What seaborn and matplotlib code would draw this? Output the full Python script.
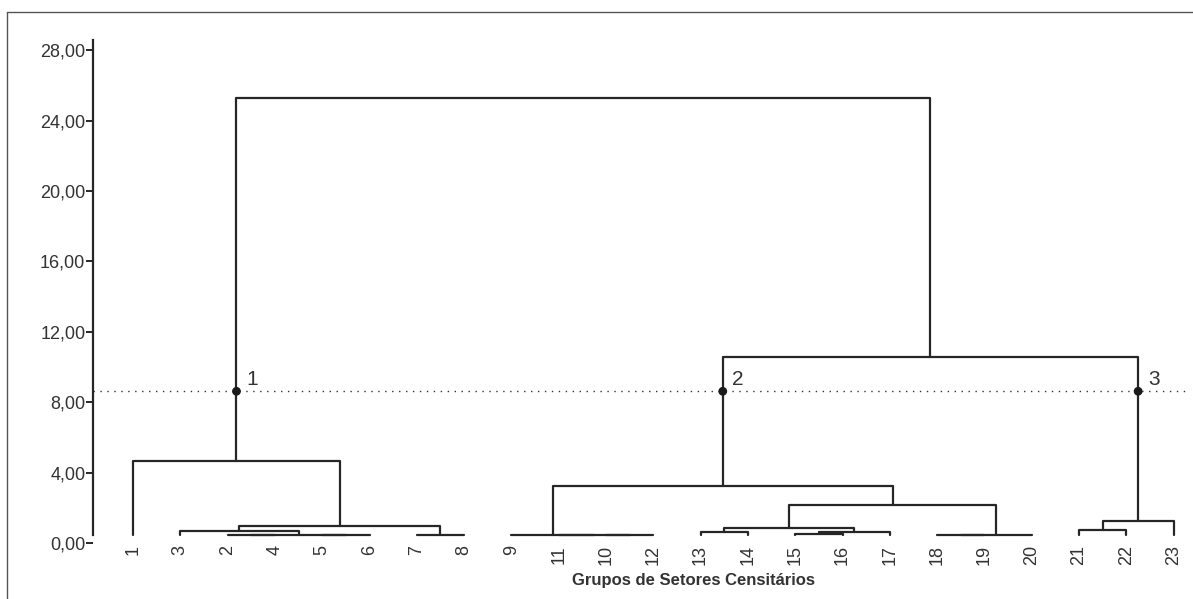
import numpy as np
import pandas as pd
import matplotlib
matplotlib.use('Agg')
import matplotlib.pyplot as plt
import seaborn as sns

# folhas na ordem do dendrograma
leaf_labels = ['1', '3', '2', '4', '5', '6', '7', '8', '9', '11', '10', '12',
               '13', '14', '15', '16', '17', '18', '19', '20', '21', '22', '23']
n_leaves = len(leaf_labels)

# fusoes: (no a, no b, distancia); nos >= 23 sao fusoes anteriores
merge_a = [2, 4, 23, 1, 6, 26, 0, 10, 9, 8, 12, 14, 34, 33, 17, 37, 36, 32, 20, 41, 40, 29]
merge_b = [3, 5, 24, 25, 7, 27, 28, 11, 30, 31, 13, 15, 16, 35, 18, 19, 38, 39, 21, 22, 42, 43]
merge_h = [0.45, 0.45, 0.45, 0.70, 0.45, 0.97, 4.66, 0.45, 0.45, 0.45, 0.62, 0.50,
           0.62, 0.85, 0.45, 0.45, 2.16, 3.24, 0.74, 1.25, 10.57, 25.30]

base = 0.45          # altura onde as folhas comecam
cut = 8.62           # linha de corte
cluster_nodes = [29, 40, 42]
cluster_names = ['1', '2', '3']

y_ticks = [0, 4, 8, 12, 16, 20, 24, 28]

# posicoes dos nos
pos = {i: float(i) for i in range(n_leaves)}
hgt = {i: base for i in range(n_leaves)}
rows = []
for k, (a, b, h) in enumerate(zip(merge_a, merge_b, merge_h)):
    xs = [pos[a], pos[a], pos[b], pos[b]]
    ys = [hgt[a], h, h, hgt[b]]
    for j in range(4):
        rows.append({'link': k, 'ord': j, 'x': xs[j], 'y': ys[j]})
    node = n_leaves + k
    pos[node] = (pos[a] + pos[b]) / 2
    hgt[node] = h
df = pd.DataFrame(rows)

sns.set_style('white')
plt.rcParams['font.family'] = ['Liberation Sans', 'DejaVu Sans']
narrow = ['Liberation Sans Narrow', 'Liberation Sans']

W, H = 1193, 599
fig = plt.figure(figsize=(W / 100, H / 100), dpi=100)
ax = fig.add_axes([93 / W, (H - 543) / H, (1190 - 93) / W, (543 - 40) / H])

ink = '#262626'
sns.lineplot(data=df, x='x', y='y', units='link', estimator=None, sort=False,
             color=ink, lw=1.6, ax=ax, legend=False)

ax.axhline(cut, color='#333333', lw=1.0, linestyle=(0, (1, 4)))

cx = [pos[n] for n in cluster_nodes]
sns.scatterplot(x=cx, y=[cut] * len(cx), color='#1a1a1a', s=40, edgecolor='none',
                ax=ax, zorder=5, legend=False)
for x, name in zip(cx, cluster_names):
    ax.annotate(name, (x, cut), xytext=(7, 1.5), textcoords='offset points',
                ha='left', va='bottom', fontsize=15, color='#333333')

ax.set_xlim(-40 / 47.3, (1190 - 133) / 47.3)
ax.set_ylim(0, 28.58)

ax.set_yticks(y_ticks)
ax.set_yticklabels([f'{v:.2f}'.replace('.', ',') for v in y_ticks],
                   fontsize=13, color='#333333')
ax.tick_params(axis='y', length=5, width=1.4, color=ink, pad=0.5, left=True)

ax.set_xticks(range(n_leaves))
ax.set_xticklabels(leaf_labels, rotation=90, family=narrow, fontsize=13,
                   color='#333333')
ax.tick_params(axis='x', length=0, pad=1.5)

ax.set_xlabel('Grupos de Setores Censitários', family=narrow, fontsize=12,
              fontweight='bold', color='#333333')
ax.xaxis.set_label_coords((693 - 93) / (1190 - 93), -0.06)
ax.set_ylabel('')

for s in ['top', 'right', 'bottom']:
    ax.spines[s].set_visible(False)
ax.spines['left'].set_color(ink)
ax.spines['left'].set_linewidth(1.6)
ax.spines['left'].set_bounds(base, 28.58)

# moldura externa
fig.add_artist(plt.Line2D([7 / W, 7 / W], [0, 1 - 12 / H], color='#555555', lw=1))
fig.add_artist(plt.Line2D([7 / W, 1], [1 - 12 / H, 1 - 12 / H], color='#555555', lw=1))

fig.savefig('out.png', dpi=100)
